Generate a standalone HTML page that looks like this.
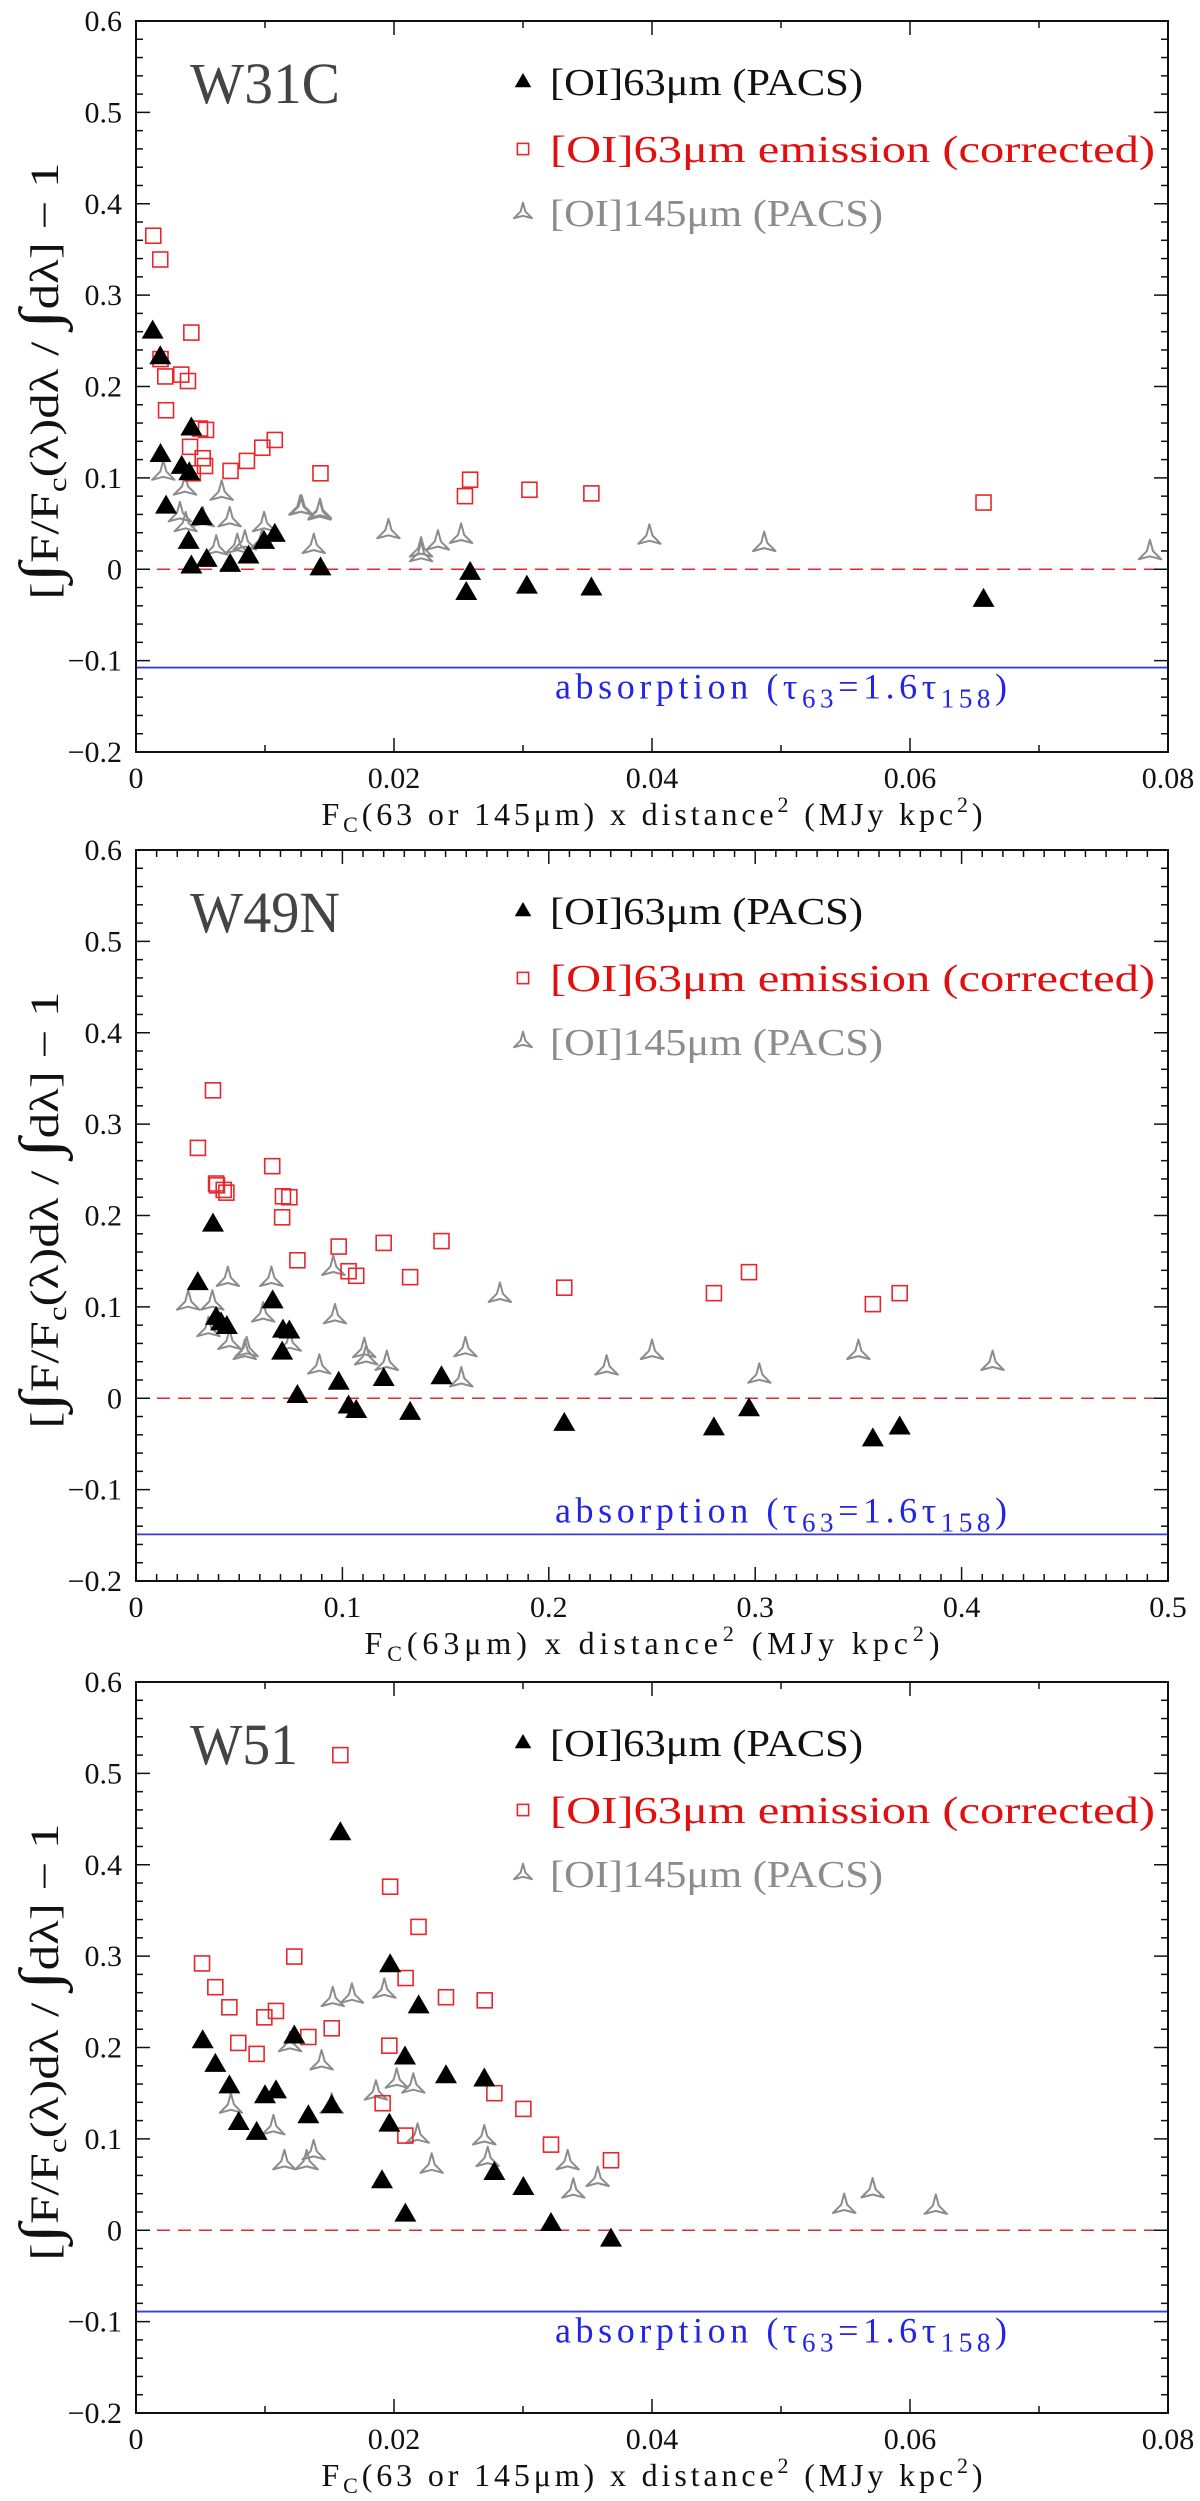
<!DOCTYPE html>
<html><head><meta charset="utf-8"><title>[OI] absorption correction — W31C, W49N, W51</title>
<style>
html,body{margin:0;padding:0;background:#fff;}
svg{display:block;}
text{font-family:"Liberation Serif","DejaVu Serif",serif;}
</style></head>
<body>
<svg id="fig" xmlns="http://www.w3.org/2000/svg" width="1200" height="2501" viewBox="0 0 1200 2501">
<rect x="0" y="0" width="1200" height="2501" fill="#fff"/>
</svg>
<script>
// ---------- Panel 1: W31C ----------
const w31c_tri_x = [0.00129,0.00188,0.0019,0.00429,0.00354,0.00413,0.00233,0.00408,0.00429,0.0051,0.00548,0.0073,0.00872,0.00993,0.01076,0.0143,0.0259,0.0256,0.0303,0.0353,0.0657];
const w31c_tri_y = [0.260,0.232,0.125,0.154,0.112,0.105,0.0686,0.030,0.003,0.056,0.0103,0.0048,0.014,0.030,0.0376,0.001,-0.004,-0.026,-0.019,-0.021,-0.0335];
const w31c_sq_x = [0.00134,0.00188,0.0019,0.00429,0.00227,0.00351,0.00403,0.00233,0.00496,0.00543,0.00419,0.00517,0.00535,0.0044,0.00733,0.0086,0.00979,0.01076,0.0143,0.0255,0.0259,0.0305,0.0353,0.0657];
const w31c_sq_y = [0.365,0.339,0.230,0.259,0.211,0.213,0.206,0.174,0.154,0.1525,0.134,0.1215,0.113,0.105,0.1076,0.1186,0.133,0.1415,0.105,0.080,0.098,0.087,0.083,0.073];
const w31c_st_x = [0.00212,0.0038,0.00664,0.01284,0.01426,0.0034,0.00385,0.00518,0.00726,0.00622,0.00785,0.00844,0.00993,0.00978,0.01274,0.01423,0.01378,0.01957,0.0221,0.0221,0.0234,0.0252,0.0398,0.0487,0.0786];
const w31c_st_y = [0.105,0.0887,0.083,0.0668,0.063,0.0595,0.0486,0.054,0.054,0.023,0.0248,0.0286,0.0486,0.030,0.0668,0.0614,0.0248,0.041,0.021,0.0158,0.0286,0.0358,0.035,0.027,0.018];
// ---------- Panel 2: W49N ----------
const w49n_tri_x = [0.0299,0.0373,0.0388,0.0412,0.044,0.0662,0.0712,0.0743,0.0708,0.0782,0.0982,0.103,0.1067,0.120,0.1328,0.148,0.2075,0.280,0.297,0.357,0.370];
const w49n_tri_y = [0.126,0.190,0.088,0.082,0.078,0.106,0.074,0.073,0.050,0.0025,0.017,-0.009,-0.014,0.021,-0.016,0.023,-0.028,-0.033,-0.012,-0.045,-0.032];
const w49n_sq_x = [0.030,0.0373,0.0388,0.0392,0.0425,0.0438,0.066,0.0712,0.0743,0.0708,0.0782,0.0982,0.103,0.1067,0.120,0.1328,0.148,0.2075,0.280,0.297,0.357,0.370];
const w49n_sq_y = [0.274,0.337,0.235,0.233,0.228,0.225,0.254,0.221,0.220,0.198,0.151,0.166,0.139,0.134,0.170,0.1325,0.172,0.121,0.115,0.138,0.103,0.115];
const w49n_st_x = [0.0253,0.037,0.0351,0.0445,0.0453,0.0536,0.0527,0.0656,0.0616,0.0745,0.0888,0.0956,0.0964,0.1106,0.1115,0.1215,0.1596,0.1576,0.1763,0.228,0.250,0.302,0.350,0.415];
const w49n_st_y = [0.104,0.104,0.075,0.130,0.061,0.053,0.050,0.130,0.091,0.059,0.034,0.142,0.089,0.052,0.044,0.038,0.053,0.020,0.1125,0.033,0.050,0.024,0.050,0.038];
// ---------- Panel 3: W51 ----------
const w51_tri_x = [0.01584,0.0197,0.00517,0.00615,0.00724,0.00796,0.00935,0.0100,0.01085,0.01227,0.01336,0.01517,0.02191,0.02085,0.02403,0.0270,0.01964,0.01907,0.02088,0.02778,0.03003,0.03217,0.03682];
const w51_tri_y = [0.4345,0.290,0.2068,0.181,0.1575,0.1174,0.1065,0.1466,0.152,0.212,0.1247,0.1357,0.245,0.189,0.1685,0.165,0.1156,0.0536,0.0171,0.0627,0.0463,0.0069,-0.0102];
const w51_sq_x = [0.01584,0.0197,0.0219,0.00512,0.01227,0.0209,0.00615,0.00724,0.00995,0.01085,0.00793,0.00935,0.01336,0.01517,0.01964,0.02403,0.02703,0.01912,0.02088,0.02778,0.03003,0.03217,0.03682];
const w51_sq_y = [0.520,0.376,0.332,0.292,0.2995,0.276,0.266,0.244,0.233,0.240,0.205,0.193,0.2115,0.221,0.202,0.255,0.2516,0.139,0.1036,0.150,0.1328,0.0937,0.0766];
const w51_st_x = [0.01525,0.01674,0.01925,0.01194,0.01439,0.00736,0.01065,0.01517,0.0186,0.02021,0.0215,0.02183,0.0115,0.01323,0.01377,0.02292,0.0270,0.02726,0.03346,0.0339,0.03579,0.0549,0.0571,0.0620];
const w51_st_y = [0.2524,0.256,0.2615,0.203,0.183,0.1357,0.112,0.1357,0.150,0.163,0.1576,0.1028,0.0737,0.0737,0.0846,0.070,0.101,0.0773,0.0737,0.0427,0.0554,0.026,0.043,0.025];
// absorption levels
const absorptionLevels = [-0.1076,-0.149,-0.089];
// tick labels
const yTickLabels = ["0.6","0.5","0.4","0.3","0.2","0.1","0","\u22120.1","\u22120.2"];
const yTickValues = [0.6,0.5,0.4,0.3,0.2,0.1,0,-0.1,-0.2];
const xTickValuesA = [0,0.02,0.04,0.06,0.08];
const xTickLabelsA = ["0","0.02","0.04","0.06","0.08"];
const xTickValuesB = [0,0.1,0.2,0.3,0.4,0.5];
const xTickLabelsB = ["0","0.1","0.2","0.3","0.4","0.5"];

const NS = "http://www.w3.org/2000/svg";
const svg = document.getElementById('fig');
const L = 136, R = 1168, PH = 731;
function mk(tag, attrs, parent){
  const e = document.createElementNS(NS, tag);
  for (const k in attrs) e.setAttribute(k, attrs[k]);
  (parent||svg).appendChild(e);
  return e;
}
function drawPanel(cfg){
  const g = mk('g', {});
  
  
  const top = cfg.top, bot = top + PH;
  const sx = v => L + v / cfg.xmax * (R - L);
  const sy = v => top + (0.6 - v) / 0.8 * PH;
  const zl = mk('line', {x1:L, x2:R, y1:sy(0), y2:sy(0), stroke:'#e8262b', 'stroke-width':1.5, 'stroke-dasharray':'13,8'}, g);
  
  
  const ay = sy(cfg.abs);
  const al = mk('line', {x1:L, x2:R, y1:ay, y2:ay, stroke:'#3a3ae0', 'stroke-width':1.8}, g);
  
  
  const at = mk('text', {x:555, y: cfg.absAbove ? ay - 12 : ay + 31, fill:'#2424e6', 'font-size':36, textLength:452, lengthAdjust:'spacing'}, g);
  
  
  at.innerHTML = 'absorption (\u03C4<tspan font-size="27" dy="9">63</tspan><tspan dy="-9">=1.6\u03C4</tspan><tspan font-size="27" dy="9">158</tspan><tspan dy="-9">)</tspan>';
  const fr = mk('rect', {x:L, y:top, width:R-L, height:PH, fill:'none', stroke:'#111', 'stroke-width':2}, g);
  
  
  for (let i = 0; i <= 40; i++){
    const v = -0.2 + i * 0.02;
    const major = (i % 5 === 0);
    const len = major ? 14 : 7;
    const y = sy(v);
    mk('line', {x1:L, x2:L+len, y1:y, y2:y, stroke:'#111', 'stroke-width':1.5}, g);
    mk('line', {x1:R, x2:R-len, y1:y, y2:y, stroke:'#111', 'stroke-width':1.5}, g);
  }
  yTickValues.forEach((v, i) => {
    const t = mk('text', {x:122, y:sy(v)+10, 'text-anchor':'end', 'font-size':30, fill:'#111'}, g);
    
    
    t.textContent = yTickLabels[i];
  });
  const nMinor = Math.round(cfg.xmax / cfg.minor);
  for (let i = 0; i <= nMinor; i++){
    const v = i * cfg.minor;
    const major = (i % cfg.majorEvery === 0);
    const len = major ? 14 : 7;
    const x = sx(v);
    mk('line', {x1:x, x2:x, y1:bot, y2:bot-len, stroke:'#111', 'stroke-width':1.5}, g);
    mk('line', {x1:x, x2:x, y1:top, y2:top+len, stroke:'#111', 'stroke-width':1.5}, g);
  }
  cfg.xticks.forEach((v, i) => {
    const t = mk('text', {x:sx(v), y:bot+36, 'text-anchor':'middle', 'font-size':30, fill:'#111'}, g);
    
    
    t.textContent = cfg.xlabels[i];
  });
  const xt = mk('text', {x:652, y:bot+73, 'text-anchor':'middle', 'font-size':32, fill:'#111', textLength:cfg.xtitleW, lengthAdjust:'spacing'}, g);
  
  
  xt.innerHTML = 'F<tspan font-size="22" dy="7">C</tspan><tspan dy="-7">' + cfg.xtitle + ' x distance</tspan><tspan font-size="22" dy="-13">2</tspan><tspan dy="13"> (MJy kpc</tspan><tspan font-size="22" dy="-13">2</tspan><tspan dy="13">)</tspan>';
  const yt = mk('text', {x:0, y:0, 'text-anchor':'middle', 'font-size':40, fill:'#111', transform:'translate(58,' + (top+360) + ') rotate(-90)', textLength:437, lengthAdjust:'spacingAndGlyphs'}, g);
  
  
  yt.innerHTML = '[<tspan font-size="56">\u222B</tspan>F/F<tspan font-size="26" dy="8">c</tspan><tspan dy="-8">(\u03BB)d\u03BB / </tspan><tspan font-size="56">\u222B</tspan>d\u03BB] \u2212 1';
  const pt = mk('text', {x:190, y:top+82, 'font-size':58, fill:'#444', textLength:cfg.titleW, lengthAdjust:'spacingAndGlyphs'}, g);
  
  
  pt.textContent = cfg.name;
  const lg = mk('g', {}, g);
  
  
  const ly = [top+61, top+128, top+192];
  triangle(lg, 523, ly[0], 0.75);
  square(lg, 523, ly[1], 0.75);
  star(lg, 523, ly[2], 0.8);
  const ltxt = [['[OI]63\u03BCm (PACS)', '#111', 313], ['[OI]63\u03BCm emission (corrected)', '#e01010', 605], ['[OI]145\u03BCm (PACS)', '#8c8c8c', 333]];
  ltxt.forEach((d, i) => {
    const t = mk('text', {x:550, y:ly[i]+13, 'font-size':38, fill:d[1], textLength:d[2], lengthAdjust:'spacingAndGlyphs'}, lg);
    
    
    t.textContent = d[0];
  });
  const ds = mk('g', {}, g);
  
  
  cfg.stx.forEach((v, i) => star(ds, sx(v), sy(cfg.sty[i]), 1));
  const dq = mk('g', {}, g);
  
  
  cfg.sqx.forEach((v, i) => square(dq, sx(v), sy(cfg.sqy[i]), 1));
  const dt = mk('g', {}, g);
  
  
  cfg.trx.forEach((v, i) => triangle(dt, sx(v), sy(cfg.try_[i]), 1));
}
function triangle(p, x, y, s){
  const e = mk('polygon', {points:[x, y-12*s, x+11*s, y+7*s, x-11*s, y+7*s].join(' '), fill:'#000'}, p);
  
  
}
function square(p, x, y, s){
  const h = 7.5*s;
  const e = mk('rect', {x:x-h, y:y-h, width:2*h, height:2*h, fill:'none', stroke:'#e8262b', 'stroke-width':1.6}, p);
  
  
}
function star(p, x, y, s){
  const pts = [];
  for (let k = 0; k < 3; k++){
    const ao = (-90 + 120*k) * Math.PI/180, ai = (-30 + 120*k) * Math.PI/180;
    pts.push((x + 13*s*Math.cos(ao)).toFixed(1) + ',' + (y + 13*s*Math.sin(ao)).toFixed(1));
    pts.push((x + 3.5*s*Math.cos(ai)).toFixed(1) + ',' + (y + 3.5*s*Math.sin(ai)).toFixed(1));
  }
  const e = mk('polygon', {points:pts.join(' '), fill:'none', stroke:'#8c8c8c', 'stroke-width':2, 'stroke-linejoin':'round'}, p);
  
  
}
drawPanel({name:'W31C', top:21, xmax:0.08, minor:0.01, majorEvery:2, xticks:xTickValuesA, xlabels:xTickLabelsA, xtitle:'(63 or 145\u03BCm)', xtitleW:661, abs:absorptionLevels[0], absAbove:false, titleW:150,
  trx:w31c_tri_x, try_:w31c_tri_y, sqx:w31c_sq_x, sqy:w31c_sq_y, stx:w31c_st_x, sty:w31c_st_y});
drawPanel({name:'W49N', top:850, xmax:0.5, minor:0.01, majorEvery:10, xticks:xTickValuesB, xlabels:xTickLabelsB, xtitle:'(63\u03BCm)', xtitleW:575, abs:absorptionLevels[1], absAbove:true, titleW:150,
  trx:w49n_tri_x, try_:w49n_tri_y, sqx:w49n_sq_x, sqy:w49n_sq_y, stx:w49n_st_x, sty:w49n_st_y});
drawPanel({name:'W51', top:1682, xmax:0.08, minor:0.01, majorEvery:2, xticks:xTickValuesA, xlabels:xTickLabelsA, xtitle:'(63 or 145\u03BCm)', xtitleW:661, abs:absorptionLevels[2], absAbove:false, titleW:108,
  trx:w51_tri_x, try_:w51_tri_y, sqx:w51_sq_x, sqy:w51_sq_y, stx:w51_st_x, sty:w51_st_y});
</script>
</body></html>
